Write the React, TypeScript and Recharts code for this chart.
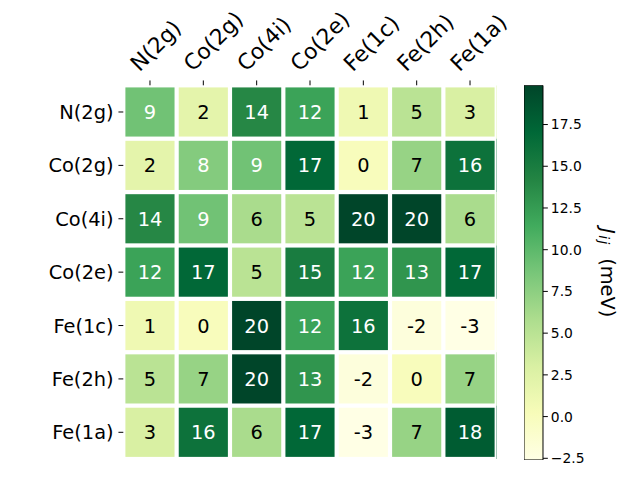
import React from 'react';
import {
  ScatterChart, Scatter, XAxis, YAxis, ComposedChart, Bar,
} from 'recharts';

// ---- data ----
const sites = ['N(2g)', 'Co(2g)', 'Co(4i)', 'Co(2e)', 'Fe(1c)', 'Fe(2h)', 'Fe(1a)'];
const rowN2g = [9, 2, 14, 12, 1, 5, 3];
const rowCo2g = [2, 8, 9, 17, 0, 7, 16];
const rowCo4i = [14, 9, 6, 5, 20, 20, 6];
const rowCo2e = [12, 17, 5, 15, 12, 13, 17];
const rowFe1c = [1, 0, 20, 12, 16, -2, -3];
const rowFe2h = [5, 7, 20, 13, -2, 0, 7];
const rowFe1a = [3, 16, 6, 17, -3, 7, 18];
const matrix = [rowN2g, rowCo2g, rowCo4i, rowCo2e, rowFe1c, rowFe2h, rowFe1a];
const colorbarTicks = [-2.5, 0, 2.5, 5, 7.5, 10, 12.5, 15, 17.5];
const VMIN = -2.6;
const VMAX = 19.85;
const TEXT_THRESHOLD = 7.5;
const ylgn = ['#ffffe5', '#f7fcb9', '#d9f0a3', '#addd8e', '#78c679', '#41ab5d', '#238443', '#006837', '#004529'];

// ---- layout ----
const W = 640;
const H = 480;
const PLOT_L = 123.3;
const PLOT_R = 496.7;
const PLOT_T = 85.3;
const PLOT_B = 459;
const CELL = (PLOT_R - PLOT_L) / sites.length;
const GAP = 4.2;
const FONT = '"DejaVu Sans", Verdana, sans-serif';
const FS = 19.4;
const FS_TOP = 21.8;
const TICK = 4.86;

const cells = matrix.flatMap((row, r) => row.map((v, c) => ({ x: c, y: r, v })));
const idxTicks = sites.map((_, i) => i);

function hexToRgb(h: string) {
  return [parseInt(h.slice(1, 3), 16), parseInt(h.slice(3, 5), 16), parseInt(h.slice(5, 7), 16)];
}
function colorFor(v: number) {
  let t = (v - VMIN) / (VMAX - VMIN);
  t = Math.max(0, Math.min(1, t));
  const p = t * (ylgn.length - 1);
  const i = Math.min(ylgn.length - 2, Math.floor(p));
  const f = p - i;
  const a = hexToRgb(ylgn[i]);
  const b = hexToRgb(ylgn[i + 1]);
  const m = a.map((x, k) => Math.round(x + (b[k] - x) * f));
  return `rgb(${m[0]},${m[1]},${m[2]})`;
}

const CellShape = (props: any) => {
  const { cx, cy, payload } = props;
  if (cx == null || cy == null) return null;
  const fill = colorFor(payload.v);
  const last = payload.x === sites.length - 1;
  return (
    <g>
      <rect
        x={cx - CELL / 2 + GAP / 2}
        y={cy - CELL / 2 + GAP / 2}
        width={CELL - GAP}
        height={CELL - GAP}
        fill={fill}
      />
      {last && (
        <rect x={cx + CELL / 2 - 0.2} y={cy - CELL / 2} width={0.9} height={CELL} fill={fill} />
      )}
      <text
        x={cx}
        y={cy}
        dy="0.36em"
        textAnchor="middle"
        fontFamily={FONT}
        fontSize={FS}
        fill={payload.v > TEXT_THRESHOLD ? '#ffffff' : '#000000'}
      >
        {payload.v}
      </text>
    </g>
  );
};

const TopTick = (props: any) => {
  const { x, y, payload } = props;
  const label = sites[payload.value];
  const bx = x - 10.5;
  const by = y - 3;
  return (
    <text
      x={bx}
      y={by}
      textAnchor="start"
      fontFamily={FONT}
      fontSize={FS_TOP}
      fill="#000"
      transform={`rotate(-45, ${bx}, ${by})`}
    >
      {label}
    </text>
  );
};

const LeftTick = (props: any) => {
  const { x, y, payload } = props;
  return (
    <text x={x} y={y} dy="0.36em" textAnchor="end" fontFamily={FONT} fontSize={FS} fill="#000">
      {sites[payload.value]}
    </text>
  );
};

const CB_LEFT = 524.3;
const CB_W = 19;
const cbData = [{ name: 'cb', range: [VMIN, VMAX] }];

const CbLabel = (props: any) => {
  const vb = props.viewBox || {};
  const x = 608 - CB_LEFT;
  const y = (vb.y ?? PLOT_T) + (vb.height ?? PLOT_B - PLOT_T) / 2;
  return (
    <text
      x={x}
      y={y}
      textAnchor="middle"
      dominantBaseline="central"
      fontFamily={FONT}
      fontSize={FS}
      fill="#000"
      transform={`rotate(90, ${x}, ${y})`}
    >
      <tspan fontStyle="italic">J</tspan>
      <tspan fontStyle="italic" fontSize={FS * 0.72} dx={1.5} dy={4} letterSpacing={1.5}>ij</tspan>
      <tspan dx={6} dy={-4}> (meV)</tspan>
    </text>
  );
};

export default function App() {
  return (
    <div style={{ position: 'fixed', left: 0, top: 0, width: W, height: H, background: '#fff' }}>
      <div style={{ position: 'absolute', left: 0, top: 0 }}>
        <ScatterChart
          width={W}
          height={H}
          margin={{ top: 0, left: 0, right: W - PLOT_R, bottom: H - PLOT_B }}
        >
          <XAxis
            type="number"
            dataKey="x"
            orientation="top"
            domain={[-0.5, sites.length - 0.5]}
            ticks={idxTicks}
            interval={0}
            allowDataOverflow
            height={PLOT_T}
            axisLine={false}
            tickLine={{ stroke: '#000', strokeWidth: 1 }}
            tickSize={TICK}
            tickMargin={TICK}
            tick={<TopTick />}
          />
          <YAxis
            type="number"
            dataKey="y"
            reversed
            domain={[-0.5, sites.length - 0.5]}
            ticks={idxTicks}
            interval={0}
            allowDataOverflow
            width={PLOT_L}
            axisLine={false}
            tickLine={{ stroke: '#000', strokeWidth: 1 }}
            tickSize={TICK}
            tickMargin={TICK}
            tick={<LeftTick />}
          />
          <Scatter data={cells} shape={<CellShape />} isAnimationActive={false} />
        </ScatterChart>
      </div>
      <div style={{ position: 'absolute', left: CB_LEFT, top: 0 }}>
        <ComposedChart
          width={W - CB_LEFT}
          height={H}
          data={cbData}
          margin={{ top: PLOT_T, left: 0, right: 0, bottom: H - PLOT_B - 1 }}
          barCategoryGap={0}
        >
          <defs>
            <linearGradient id="ylgnGrad" x1="0" y1="1" x2="0" y2="0">
              {ylgn.map((c, i) => (
                <stop key={i} offset={`${(i / (ylgn.length - 1)) * 100}%`} stopColor={c} />
              ))}
            </linearGradient>
          </defs>
          <XAxis dataKey="name" type="category" hide />
          <YAxis
            orientation="right"
            type="number"
            domain={[VMIN, VMAX]}
            allowDataOverflow
            ticks={colorbarTicks}
            interval={0}
            width={W - CB_LEFT - CB_W}
            axisLine={false}
            tickLine={{ stroke: '#000', strokeWidth: 1 }}
            tickSize={TICK}
            tickMargin={3}
            tick={{ fontFamily: FONT, fontSize: 13.9, fill: '#000' }}
            tickFormatter={(v: number) => v.toFixed(1).replace('-', '\u2212')}
            label={<CbLabel />}
          />
          <Bar dataKey="range" fill="url(#ylgnGrad)" stroke="#000" strokeWidth={1} isAnimationActive={false} />
        </ComposedChart>
      </div>
    </div>
  );
}
